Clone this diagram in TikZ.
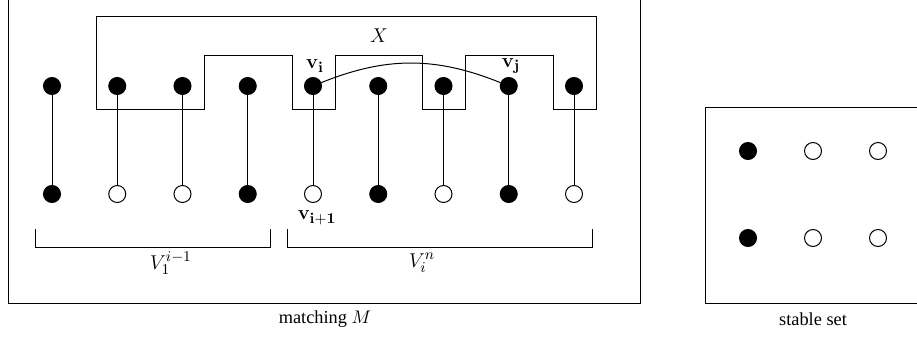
\documentclass[tikz,border=0pt]{standalone}
\usepackage[no-math]{fontspec}
\setmainfont{Liberation Serif}
\begin{document}
\begin{tikzpicture}[x=0.6pt,y=-0.6pt,line width=0.6pt,
  fdot/.style={circle,fill=black,draw=black,inner sep=0pt,minimum size=10.2pt},
  odot/.style={circle,fill=white,draw=black,inner sep=0pt,minimum size=10.2pt},
  lab/.style={inner sep=0pt,font=\fontsize{12.5}{15}\selectfont},
  captext/.style={inner sep=0pt,font=\fontsize{11}{13}\selectfont},
  frame/.style={draw=black}]
\useasboundingbox (0,0) rectangle (917,336);
% frames
\draw[frame] (8,-3) rectangle (640,303);
\draw[frame] (705,107) rectangle (925,303);
% set X
\draw (96,16) -- (96,109) -- (204,109) -- (204,55) -- (292,55) -- (292,109)
  -- (335,109) -- (335,55) -- (422,55) -- (422,109) -- (465,109) -- (465,55)
  -- (553,55) -- (553,109) -- (596,109) -- (596,16) -- cycle;
\node[lab] (X) at (379,36) {$X$};
% matching vertices
\foreach \k in {0,...,8} {
  \node[fdot] (t\k) at ({52+65.25*\k},86) {};
}
\foreach \k/\s in {0/fdot,1/odot,2/odot,3/fdot,4/odot,5/fdot,6/odot,7/fdot,8/odot} {
  \node[\s] (b\k) at ({52+65.25*\k},194) {};
}
\foreach \k in {0,...,8} { \draw (t\k) -- (b\k); }
\draw (t4) to[bend left=22] (t7);
\node[lab] (vi) at (315,66) {$\mathbf{v_i}$};
\node[lab] (vj) at (511,66) {$\mathbf{v_j}$};
\node[lab] (vi1) at (317,218) {$\mathbf{v_{i+1}}$};
% brackets
\draw (35,229) -- (35,247) -- (270,247) -- (270,229);
\draw (287,229) -- (287,247) -- (592,247) -- (592,229);
\node[lab] (L) at (171,263) {$V_1^{i-1}$};
\node[lab] (R) at (422,263) {$V_i^n$};
\node[captext] (cm) at (325,319) {matching $M$};
% stable set
\node[fdot] (s1) at (748,151) {};
\node[odot] (s2) at (813,151) {};
\node[odot] (s3) at (878,151) {};
\node[fdot] (s4) at (748,238) {};
\node[odot] (s5) at (813,238) {};
\node[odot] (s6) at (878,238) {};
\node[captext] (cs) at (813,319) {stable set};
\end{tikzpicture}
\end{document}
